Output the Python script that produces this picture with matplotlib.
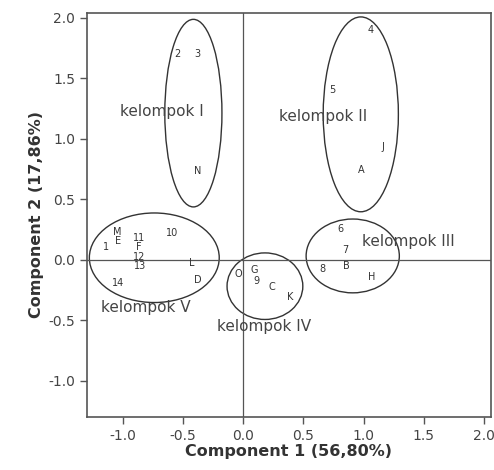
import numpy as np
import matplotlib.pyplot as plt
from matplotlib.patches import Ellipse

# point labels and scores (component 1, component 2)
names = ["2", "3", "N", "4", "5", "J", "A", "6", "7", "B", "8", "H",
         "O", "G", "9", "C", "K", "M", "E", "1", "11", "F", "12", "13",
         "10", "L", "D", "14"]
pc1 = [-0.55, -0.38, -0.38, 1.06, 0.74, 1.16, 0.98, 0.81, 0.85, 0.86, 0.66, 1.07,
       -0.04, 0.09, 0.11, 0.24, 0.39, -1.05, -1.04, -1.14, -0.87, -0.87, -0.87, -0.86,
       -0.59, -0.43, -0.38, -1.04]
pc2 = [1.70, 1.70, 0.73, 1.90, 1.40, 0.93, 0.74, 0.25, 0.08, -0.05, -0.08, -0.14,
       -0.12, -0.09, -0.18, -0.23, -0.31, 0.23, 0.155, 0.10, 0.18, 0.10, 0.025, -0.05,
       0.22, -0.03, -0.17, -0.19]

# groups: ellipse centre, width, height and label position
groups = ["kelompok I", "kelompok II", "kelompok III", "kelompok IV", "kelompok V"]
ell_x = [-0.415, 0.977, 0.91, 0.18, -0.74]
ell_y = [1.21, 1.20, 0.03, -0.22, 0.015]
ell_w = [0.475, 0.625, 0.775, 0.63, 1.08]
ell_h = [1.55, 1.61, 0.61, 0.55, 0.74]
lab_x = [-0.68, 0.66, 1.37, 0.17, -0.81]
lab_y = [1.22, 1.18, 0.15, -0.55, -0.40]

fig = plt.figure(figsize=(4.94, 4.70), dpi=100)
ax = fig.add_axes([0.176, 0.113, 0.818, 0.86])

ax.axhline(0, color="#555555", lw=0.9)
ax.axvline(0, color="#555555", lw=0.9)

for n, x, y in zip(names, pc1, pc2):
    ax.text(x, y, n, fontsize=7, ha="center", va="center", color="#333333")

for i in range(len(groups)):
    e = Ellipse((ell_x[i], ell_y[i]), ell_w[i], ell_h[i], fill=False,
                ec="#333333", lw=1.0)
    ax.add_patch(e)
    ax.text(lab_x[i], lab_y[i], groups[i], fontsize=11, ha="center", va="center",
            color="#444444")

ax.set_xlim(-1.3, 2.06)
ax.set_ylim(-1.3, 2.04)
ax.set_xticks([-1.0, -0.5, 0.0, 0.5, 1.0, 1.5, 2.0])
ax.set_yticks([-1.0, -0.5, 0.0, 0.5, 1.0, 1.5, 2.0])
ax.xaxis.set_major_formatter(plt.FormatStrFormatter("%.1f"))
ax.yaxis.set_major_formatter(plt.FormatStrFormatter("%.1f"))
ax.tick_params(direction="out", length=5, width=1, color="#555555",
               labelsize=10, labelcolor="#444444")
for s in ax.spines.values():
    s.set_color("#555555")
    s.set_linewidth(1.2)

ax.set_xlabel("Component 1 (56,80%)", fontsize=11.5, fontweight="bold", color="#333333", labelpad=1)
ax.set_ylabel("Component 2 (17,86%)", fontsize=11.5, fontweight="bold", color="#333333", labelpad=3)

fig.savefig("out.png", dpi=100)
